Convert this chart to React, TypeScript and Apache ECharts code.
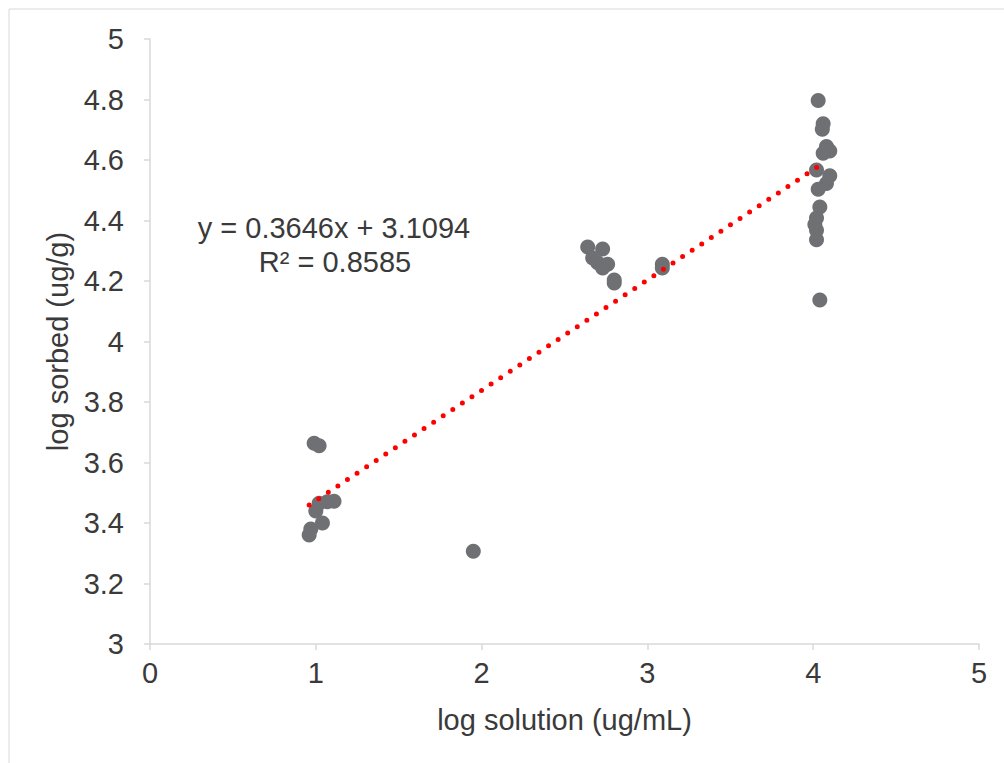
import React, { useEffect, useRef } from "react";
import * as echarts from "echarts";

const xValues: number[] = [
  0.99, 1.02, 1.0, 1.02, 1.07, 1.11, 1.04, 0.97, 0.96,
  1.95,
  2.64, 2.73, 2.67, 2.7, 2.73, 2.76, 2.8, 2.8, 3.09, 3.09,
  4.03, 4.06, 4.055, 4.08, 4.1, 4.06, 4.02, 4.1, 4.08, 4.03, 4.04, 4.02, 4.01, 4.02, 4.02, 4.04,
];
const yValues: number[] = [
  3.664, 3.655, 3.44, 3.465, 3.47, 3.472, 3.4, 3.38, 3.36,
  3.307,
  4.312, 4.306, 4.276, 4.26, 4.243, 4.255, 4.203, 4.193, 4.255, 4.243,
  4.797, 4.72, 4.702, 4.645, 4.63, 4.622, 4.567, 4.548, 4.522, 4.503, 4.445, 4.408, 4.387, 4.368, 4.336, 4.137,
];
const slope = 0.3646;
const intercept = 3.1094;
const trendStartX = 0.96;
const trendEndX = 4.04;
const xTicks = [0, 1, 2, 3, 4, 5];
const yTicks = [3, 3.2, 3.4, 3.6, 3.8, 4, 4.2, 4.4, 4.6, 4.8, 5];
const equationText = "y = 0.3646x + 3.1094";
const r2Text = "R² = 0.8585";
const xAxisTitle = "log solution (ug/mL)";
const yAxisTitle = "log sorbed (ug/g)";

export default function App() {
  const ref = useRef<HTMLDivElement>(null);
  useEffect(() => {
    if (!ref.current) return;
    const chart = echarts.init(ref.current, undefined, { renderer: "svg" });
    const points = xValues.map((x, i) => [x, yValues[i]]);
    const trend = [
      [trendStartX, slope * trendStartX + intercept],
      [trendEndX, slope * trendEndX + intercept],
    ];
    const font = "'Liberation Sans', Arial, sans-serif";
    const fs = 29;
    const textColor = "#3a3a3a";
    chart.setOption({
      animation: false,
      backgroundColor: "#ffffff",
      textStyle: { fontFamily: font },
      grid: { left: 150, right: 25, top: 39, bottom: 119, containLabel: false },
      xAxis: {
        type: "value",
        min: xTicks[0],
        max: xTicks[xTicks.length - 1],
        interval: 1,
        name: xAxisTitle,
        nameLocation: "middle",
        nameGap: 61,
        nameTextStyle: { fontSize: fs, color: textColor, fontFamily: font },
        axisLine: { show: true, lineStyle: { color: "#d9d9d9", width: 1.5 } },
        axisTick: { show: true, length: 6, lineStyle: { color: "#d9d9d9", width: 1.5 } },
        axisLabel: { fontSize: fs, color: textColor, margin: 14, fontFamily: font },
        splitLine: { show: false },
      },
      yAxis: {
        type: "value",
        min: yTicks[0],
        max: yTicks[yTicks.length - 1],
        interval: 0.2,
        name: yAxisTitle,
        nameLocation: "middle",
        nameGap: 77,
        nameRotate: 90,
        nameTextStyle: { fontSize: fs, color: textColor, fontFamily: font },
        axisLine: { show: true, lineStyle: { color: "#d9d9d9", width: 1.5 } },
        axisTick: { show: true, length: 6, lineStyle: { color: "#d9d9d9", width: 1.5 } },
        axisLabel: {
          fontSize: fs,
          color: textColor,
          margin: 26,
          fontFamily: font,
          formatter: (v: number) => String(Math.round(v * 10) / 10),
        },
        splitLine: { show: false },
      },
      graphic: [
        {
          type: "rect",
          shape: { x: 9, y: 9, width: 1010, height: 780 },
          style: { fill: "none", stroke: "#d9d9d9", lineWidth: 1 },
          silent: true,
          z: -1,
        },
        {
          type: "text",
          x: 334,
          y: 228,
          style: {
            text: equationText,
            fontSize: 29,
            fill: textColor,
            fontFamily: font,
            textAlign: "center",
            textVerticalAlign: "middle",
          },
        },
        {
          type: "text",
          x: 335,
          y: 262,
          style: {
            text: r2Text,
            fontSize: 29,
            fill: textColor,
            fontFamily: font,
            textAlign: "center",
            textVerticalAlign: "middle",
          },
        },
      ],
      series: [
        {
          type: "scatter",
          data: points,
          symbol: "circle",
          symbolSize: 15,
          itemStyle: { color: "#6f7074", opacity: 1 },
          z: 2,
        },
        {
          type: "line",
          data: trend,
          showSymbol: false,
          symbol: "none",
          lineStyle: { color: "#ff0000", width: 5, type: [0, 11.5], cap: "round" },
          z: 3,
        },
      ],
    });
    return () => chart.dispose();
  }, []);
  return (
    <div
      ref={ref}
      style={{ position: "absolute", left: 0, top: 0, width: 1004, height: 763 }}
    />
  );
}
